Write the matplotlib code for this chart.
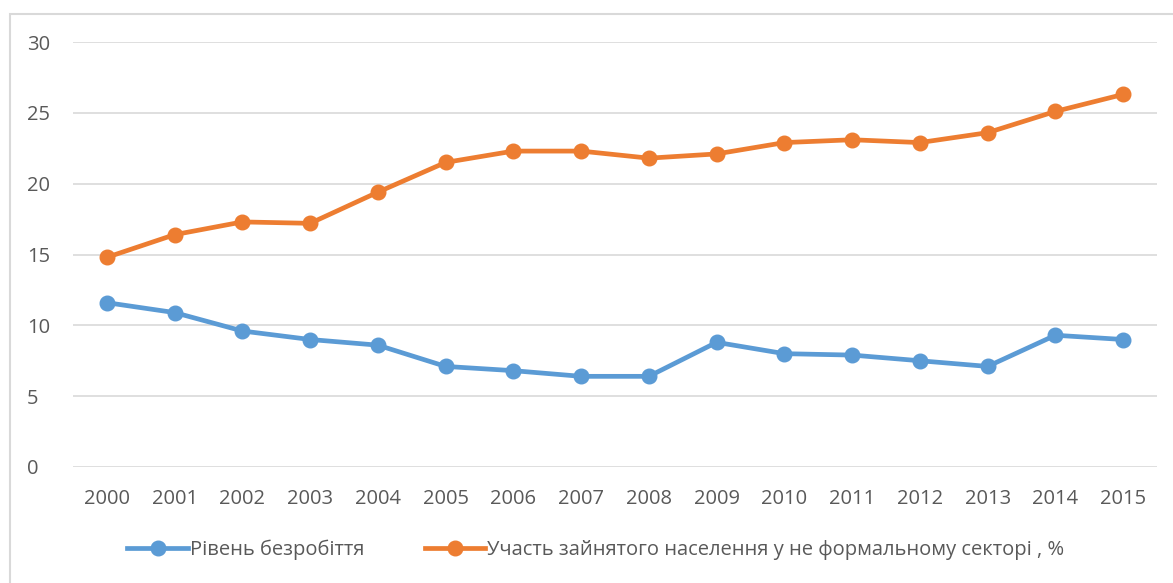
import matplotlib.pyplot as plt
from matplotlib.patches import Rectangle

years = [str(y) for y in range(2000, 2016)]
unemployment = [11.6, 10.9, 9.6, 9.0, 8.6, 7.1, 6.8, 6.4, 6.4, 8.8, 8.0, 7.9, 7.5, 7.1, 9.3, 9.0]
informal = [14.8, 16.4, 17.3, 17.2, 19.4, 21.5, 22.3, 22.3, 21.8, 22.1, 22.9, 23.1, 22.9, 23.6, 25.1, 26.3]
labels = ["Рівень безробіття", "Участь зайнятого населення у не формальному секторі , %"]

plt.rcParams['font.family'] = ['Open Sans', 'DejaVu Sans']

fig = plt.figure(figsize=(11.73, 5.83), dpi=100)
fig.patch.set_facecolor('white')
fig.patches.append(Rectangle((10/1173, -0.05), 1.2, (583-14)/583 + 0.05,
                             transform=fig.transFigure, fill=False,
                             edgecolor='#d9d9d9', linewidth=1.5))

ax = fig.add_axes([73/1173, (583-467)/583, (1157-73)/1173, (467-42)/583])
x = range(len(years))
ax.plot(x, unemployment, color='#5B9BD5', lw=3.4, marker='o', ms=10.5, label=labels[0])
ax.plot(x, informal, color='#ED7D31', lw=3.4, marker='o', ms=10.5, label=labels[1])

ax.set_xlim(-0.5, len(years) - 0.5)
ax.set_ylim(0, 30)
ax.set_yticks(range(0, 31, 5))
ax.set_xticks(list(x))
ax.set_xticklabels(years)
ax.grid(axis='y', color='#d9d9d9', lw=1.2)
ax.set_axisbelow(True)
for s in ax.spines.values():
    s.set_visible(False)
ax.tick_params(length=0, labelsize=14.5, colors='#595959', pad=16)
ax.tick_params(axis='y', pad=33)
for t in ax.get_yticklabels():
    t.set_horizontalalignment('left')

fig.legend(loc='center', bbox_to_anchor=(0.508, (583-550)/583), ncol=2, frameon=False,
           fontsize=14.5, labelcolor='#595959', handlelength=3.0, columnspacing=3.0,
           handletextpad=0.1)

plt.savefig("out.png", dpi=100)
